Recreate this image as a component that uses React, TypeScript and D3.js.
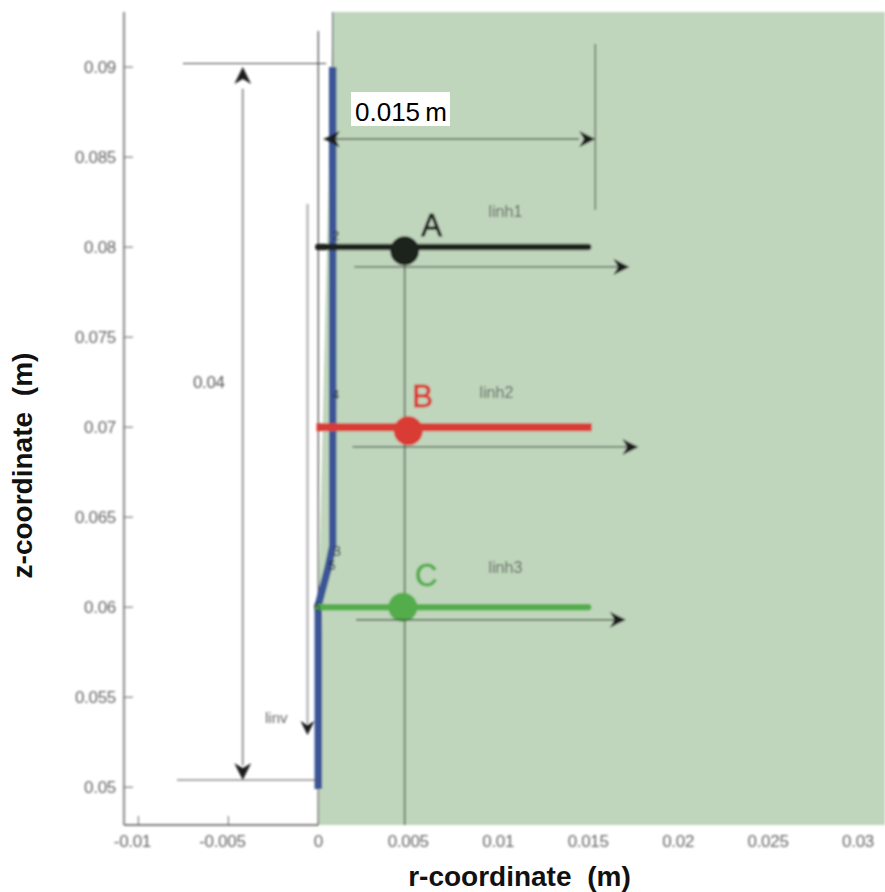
import React from "react";
import * as d3 from "d3";

const xTicks = [-0.01, -0.005, 0, 0.005, 0.01, 0.015, 0.02, 0.025, 0.03];
const xTickLabels = ["-0.01", "-0.005", "0", "0.005", "0.01", "0.015", "0.02", "0.025", "0.03"];
const yTicks = [0.05, 0.055, 0.06, 0.065, 0.07, 0.075, 0.08, 0.085, 0.09];
const yTickLabels = ["0.05", "0.055", "0.06", "0.065", "0.07", "0.075", "0.08", "0.085", "0.09"];

const xDomain = [-0.0108, 0.0315];
const yDomain = [0.0479, 0.09306];

const wallPath: [number, number][] = [[0, 0.0499], [0, 0.0601], [0.00055, 0.0622], [0.0008, 0.0634], [0.0008, 0.09]];
const regionOuter: [number, number][] = [[0.0008, 0.09306], [0.0315, 0.09306], [0.0315, 0.0479], [0, 0.0479]];
const probeNames = ["A", "B", "C"];
const probeZ = [0.08, 0.07, 0.06];
const probeDotR = [0.0048, 0.005, 0.0047];
const probeDotZ = [0.0798, 0.0698, 0.06];
const probeColors = ["#1c211e", "#d93a35", "#52ad4b"];
const probeLabelR = [0.0063, 0.0058, 0.006];
const probeLabelZ = [0.0806, 0.0711, 0.0612];
const lineLabels = ["linh1", "linh2", "linh3"];
const lineLabelR = [0.0104, 0.0099, 0.0104];
const lineLabelZ = [0.0817, 0.0716, 0.0619];
const arrowStartR = [0.002, 0.0019, 0.0021];
const arrowEndR = [0.0173, 0.0178, 0.0171];
const arrowZ = [0.0789, 0.0689, 0.0593];

const x = d3.scaleLinear().domain(xDomain).range([124, 885]);
const y = d3.scaleLinear().domain(yDomain).range([825, 12]);
const wallLine = d3.line<[number, number]>().x((d) => x(d[0])).y((d) => y(d[1]));

const tickColor = "#666";
const labelColor = "#666";
const lineColor = "#56655a";

function ArrowHead({ px, py, dir, color = "#1c1c1c", s = 1 }: { px: number; py: number; dir: number; color?: string; s?: number }) {
  return (
    <path
      d={`M0,0 L${-14 * s},${-7 * s} L${-10 * s},0 L${-14 * s},${7 * s} Z`}
      fill={color}
      transform={`translate(${px},${py}) rotate(${dir})`}
    />
  );
}

export default function App() {
  return (
    <svg width={885} height={892} style={{ position: "absolute", left: 0, top: 0, background: "#fff" }} fontFamily="'Liberation Sans', Arial, sans-serif">
      <defs>
        <filter id="soft" filterUnits="userSpaceOnUse" x="0" y="0" width="885" height="860">
          <feGaussianBlur stdDeviation="0.85" />
        </filter>
      </defs>
      <g filter="url(#soft)">
        <path d={(wallLine([...wallPath.slice().reverse().slice(0, -1), ...regionOuter]) ?? "") + "Z"} fill="#c0d6bc" />

        {/* axes */}
        <line x1={124} x2={124} y1={12} y2={825} stroke="#999" strokeWidth={2.4} />
        <line x1={124} x2={x(0)} y1={825} y2={825} stroke="#555" strokeWidth={1.4} />
        {yTicks.map((t, i) => (
          <g key={t}>
            <line x1={124} x2={133} y1={y(t)} y2={y(t)} stroke={tickColor} strokeWidth={1} />
            <text x={116} y={y(t) + 6} textAnchor="end" fontSize={17} fill={labelColor} letterSpacing={-0.3}>{yTickLabels[i]}</text>
          </g>
        ))}
        {xTicks.map((t, i) => (
          <g key={t}>
            {t < 0 && <line x1={x(t)} x2={x(t)} y1={816} y2={825} stroke={tickColor} strokeWidth={1} />}
            <text x={x(t) - (t < 0 ? 6 : 0)} y={847} textAnchor="middle" fontSize={17} fill={labelColor} letterSpacing={-0.3}>{xTickLabels[i]}</text>
          </g>
        ))}

        {/* reference verticals */}
        <line x1={x(0)} x2={x(0)} y1={31} y2={825} stroke="#444" strokeWidth={1.2} />
        <line x1={x(0.0008)} x2={x(0.0008)} y1={12} y2={70} stroke="#667" strokeWidth={1.2} />
        <line x1={x(0.0048)} x2={x(0.0048)} y1={y(0.0798)} y2={825} stroke={lineColor} strokeWidth={1.6} />

        {/* wall */}
        <path d={wallLine(wallPath) ?? ""} fill="none" stroke="#3a5596" strokeWidth={7.5} />

        {/* overall height dimension */}
        <line x1={183} x2={326} y1={y(0.0902)} y2={y(0.0902)} stroke="#444" strokeWidth={1.2} />
        <line x1={177} x2={320} y1={y(0.0504)} y2={y(0.0504)} stroke="#555" strokeWidth={1.2} />
        <line x1={x(-0.0042)} x2={x(-0.0042)} y1={y(0.0888)} y2={y(0.0512)} stroke="#999" strokeWidth={2} />
        <ArrowHead px={x(-0.0042)} py={y(0.09)} dir={-90} s={1.2} />
        <ArrowHead px={x(-0.0042)} py={y(0.0504)} dir={90} s={1.2} />
        <text x={x(-0.00697)} y={y(0.0722)} fontSize={17} fill="#5c5c5c" letterSpacing={-0.3}>0.04</text>

        {/* width dimension */}
        <line x1={x(0.0003)} x2={x(0.0145)} y1={y(0.086)} y2={y(0.086)} stroke="#4c5a50" strokeWidth={1.5} />
        <ArrowHead px={x(0.0003)} py={y(0.086)} dir={180} s={1.15} />
        <ArrowHead px={x(0.0154)} py={y(0.086)} dir={0} s={1.15} />
        <line x1={x(0.0154)} x2={x(0.0154)} y1={44} y2={210} stroke="#586558" strokeWidth={1.4} />

        {/* linv arrow */}
        <line x1={x(-0.0006)} x2={x(-0.0006)} y1={204} y2={y(0.0535)} stroke="#bbb" strokeWidth={2.6} />
        <ArrowHead px={x(-0.0006)} py={y(0.0529)} dir={90} />
        <text x={265} y={723} fontSize={15} fill="#666">linv</text>

        {/* probe lines */}
        {probeNames.map((name, i) => (
          <g key={name}>
            <line x1={x(i === 1 ? -0.0001 : 0)} x2={x(i === 1 ? 0.0152 : 0.015)} y1={y(probeZ[i])} y2={y(probeZ[i])} stroke={probeColors[i]} strokeWidth={i === 1 ? 8 : 6.5} strokeLinecap={i === 1 ? "butt" : "round"} />
            <circle cx={x(probeDotR[i])} cy={y(probeDotZ[i])} r={14.5} fill={probeColors[i]} />
            <text x={x(probeLabelR[i])} y={y(probeLabelZ[i])} fontSize={31} textAnchor="middle" fill={probeColors[i]} stroke={probeColors[i]} strokeWidth={0.9}>{name}</text>
            <text x={x(lineLabelR[i])} y={y(lineLabelZ[i])} fontSize={16} textAnchor="middle" fill="#5c665e">{lineLabels[i]}</text>
            <line x1={x(arrowStartR[i])} x2={x(arrowEndR[i]) - 8} y1={y(arrowZ[i])} y2={y(arrowZ[i])} stroke="#45524a" strokeWidth={1.3} />
            <ArrowHead px={x(arrowEndR[i])} py={y(arrowZ[i])} dir={0} s={1.15} />
          </g>
        ))}

        {/* small numbers along the wall */}
        <text x={336} y={240} fontSize={12} textAnchor="middle" fill="#223">2</text>
        <text x={336} y={399} fontSize={12} textAnchor="middle" fill="#223">4</text>
        <text x={337} y={556} fontSize={15} textAnchor="middle" fill="#334">3</text>
        <text x={332} y={570} fontSize={13} textAnchor="middle" fill="#223">5</text>
        <text x={317} y={611} fontSize={12} textAnchor="middle" fill="#223">6</text>
      </g>

      <rect x={351} y={92} width={99} height={34} fill="#fff" />
      <text x={355} y={120.5} fontSize={26} wordSpacing={-2} fill="#000">0.015 m</text>

      <text x={519.5} y={885.5} fontSize={28} fontWeight="bold" wordSpacing={8} textAnchor="middle" fill="#111">r-coordinate (m)</text>
      <text transform="translate(32,465.5) rotate(-90)" fontSize={28} fontWeight="bold" wordSpacing={8} textAnchor="middle" fill="#111">z-coordinate (m)</text>
    </svg>
  );
}
